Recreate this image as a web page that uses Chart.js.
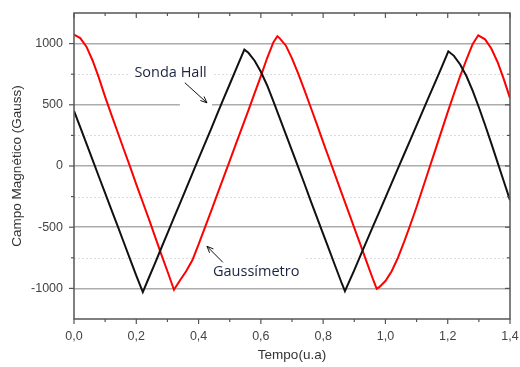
<!DOCTYPE html>
<html>
<head>
<meta charset="utf-8">
<script src="https://cdn.jsdelivr.net/npm/chart.js@4.4.0/dist/chart.umd.min.js"></script>
<style>
  html, body { margin: 0; padding: 0; background: #fff; }
  #wrap { width: 520px; height: 367px; }
</style>
</head>
<body>
<div id="wrap"><canvas id="chart-line"></canvas></div>
<script>
// data
var hallTime = [0, 0.02, 0.04, 0.06, 0.08, 0.10, 0.12, 0.14, 0.16, 0.18, 0.20, 0.221,
    0.24, 0.26, 0.28, 0.30, 0.32, 0.34, 0.36, 0.38, 0.40, 0.42, 0.44, 0.46, 0.48, 0.50, 0.52, 0.547,
    0.56, 0.58, 0.60, 0.62, 0.64, 0.66, 0.68, 0.70, 0.72, 0.74, 0.76, 0.78, 0.80, 0.82, 0.84, 0.86, 0.87,
    0.88, 0.90, 0.92, 0.94, 0.96, 0.98, 1.00, 1.02, 1.04, 1.06, 1.08, 1.10, 1.12, 1.14, 1.16, 1.18, 1.202,
    1.22, 1.24, 1.26, 1.28, 1.30, 1.32, 1.34, 1.36, 1.38, 1.40];
var hallField = [450, 318, 183, 48, -88, -222, -356, -490, -625, -760, -895, -1030,
    -915, -795, -672, -550, -428, -307, -185, -62, 60, 180, 302, 425, 548, 668, 790, 951,
    925, 860, 770, 660, 530, 395, 260, 125, -10, -145, -285, -420, -555, -690, -825, -960, -1022,
    -965, -850, -730, -612, -494, -376, -258, -140, -22, 96, 214, 332, 450, 568, 686, 804, 937,
    900, 830, 735, 615, 480, 335, 185, 30, -125, -279];

var gaussTime = [0, 0.02, 0.04, 0.06, 0.08, 0.10, 0.12, 0.14, 0.16, 0.18, 0.20, 0.22, 0.24, 0.26, 0.28, 0.30, 0.321,
    0.34, 0.36, 0.38, 0.40, 0.42, 0.44, 0.46, 0.48, 0.50, 0.52, 0.54, 0.56, 0.58, 0.60, 0.62, 0.64, 0.653,
    0.66, 0.68, 0.70, 0.72, 0.74, 0.76, 0.78, 0.80, 0.82, 0.84, 0.86, 0.88, 0.90, 0.92, 0.94, 0.96, 0.972,
    0.98, 1.00, 1.02, 1.04, 1.06, 1.08, 1.10, 1.12, 1.14, 1.16, 1.18, 1.20, 1.22, 1.24, 1.26, 1.28, 1.298,
    1.32, 1.34, 1.36, 1.38, 1.40];
var gaussField = [1074, 1045, 975, 860, 720, 565, 420, 278, 135, -5, -150, -290, -430, -575, -720, -860, -1011,
    -935, -860, -770, -640, -505, -370, -232, -95, 42, 180, 318, 455, 595, 735, 880, 1010, 1060,
    1045, 985, 880, 755, 620, 480, 340, 195, 55, -85, -225, -365, -505, -645, -785, -925, -1003,
    -990, -940, -860, -750, -620, -480, -335, -180, -25, 130, 285, 440, 590, 735, 870, 995, 1068,
    1035, 960, 850, 710, 555];

var xTicks = [0, 0.2, 0.4, 0.6, 0.8, 1.0, 1.2, 1.4];
var xMinor = [0.1, 0.3, 0.5, 0.7, 0.9, 1.1, 1.3];
var yTicks = [-1000, -500, 0, 500, 1000];
var yMinor = [-750, -250, 250, 750];

function toPoints(xs, ys) {
    return xs.map(function (x, i) { return { x: x, y: ys[i] }; });
}

// extra drawing: dotted minor grid, frame, mirrored ticks, labels with arrows
var framePlugin = {
    id: 'frame',
    beforeDatasetsDraw: function (chart) {
        var c = chart.ctx, a = chart.chartArea;
        var xs = chart.scales.x, ys = chart.scales.y;
        c.save();
        c.strokeStyle = '#dcdcdc';
        c.lineWidth = 1;
        c.setLineDash([2, 2]);
        yMinor.forEach(function (v) {
            var y = Math.round(ys.getPixelForValue(v)) + 0.5;
            c.beginPath(); c.moveTo(a.left, y); c.lineTo(a.right, y); c.stroke();
        });
        c.setLineDash([]);
        // white boxes behind the labels and arrows
        c.fillStyle = '#fff';
        function box(x1, y1, x2, y2) {
            var px = xs.getPixelForValue(x1), py = ys.getPixelForValue(y1);
            c.fillRect(px, py, xs.getPixelForValue(x2) - px, ys.getPixelForValue(y2) - py);
        }
        box(0.18, 852, 0.443, 640);
        box(0.34, 640, 0.443, 467);
        box(0.414, -689, 0.742, -967);
        c.restore();
    },
    afterDatasetsDraw: function (chart) {
        var c = chart.ctx, a = chart.chartArea;
        var xs = chart.scales.x, ys = chart.scales.y;
        c.save();
        c.strokeStyle = '#555';
        c.lineWidth = 1.5;
        c.strokeRect(a.left, a.top, a.right - a.left, a.bottom - a.top);
        c.lineWidth = 1.2;
        function tickX(v, len) {
            var x = xs.getPixelForValue(v);
            c.beginPath(); c.moveTo(x, a.bottom); c.lineTo(x, a.bottom + len); c.stroke();
            c.beginPath(); c.moveTo(x, a.top); c.lineTo(x, a.top + len); c.stroke();
        }
        function tickY(v, len) {
            var y = ys.getPixelForValue(v);
            c.beginPath(); c.moveTo(a.left, y); c.lineTo(a.left - len, y); c.stroke();
            c.beginPath(); c.moveTo(a.right, y); c.lineTo(a.right - len, y); c.stroke();
        }
        xTicks.forEach(function (v) { tickX(v, 5); });
        xMinor.forEach(function (v) { tickX(v, 3); });
        yTicks.forEach(function (v) { tickY(v, 5); });
        yMinor.forEach(function (v) { tickY(v, 3); });

        // labels
        c.fillStyle = '#1c2340';
        c.font = '14.5px "Open Sans"';
        c.textAlign = 'center';
        c.textBaseline = 'middle';
        c.fillText('Sonda Hall', xs.getPixelForValue(0.31), ys.getPixelForValue(762));
        c.fillText('Gaussímetro', xs.getPixelForValue(0.585), ys.getPixelForValue(-869));

        function arrow(x1, y1, x2, y2) {
            var px1 = xs.getPixelForValue(x1), py1 = ys.getPixelForValue(y1);
            var px2 = xs.getPixelForValue(x2), py2 = ys.getPixelForValue(y2);
            var ang = Math.atan2(py2 - py1, px2 - px1);
            c.strokeStyle = '#111';
            c.lineWidth = 1;
            c.beginPath(); c.moveTo(px1, py1); c.lineTo(px2, py2); c.stroke();
            c.beginPath();
            c.moveTo(px2 - 7 * Math.cos(ang - 0.4), py2 - 7 * Math.sin(ang - 0.4));
            c.lineTo(px2, py2);
            c.lineTo(px2 - 7 * Math.cos(ang + 0.4), py2 - 7 * Math.sin(ang + 0.4));
            c.stroke();
        }
        arrow(0.356, 680, 0.427, 516);
        arrow(0.478, -787, 0.427, -656);
        c.restore();
    }
};

var ctx1 = document.getElementById('chart-line').getContext('2d');
var axisFont = "'Liberation Sans', Arial, sans-serif";

new Chart(ctx1, {
    type: 'scatter',
    data: {
        datasets: [{
            label: 'Sonda Hall',
            data: toPoints(hallTime, hallField),
            showLine: true,
            borderColor: '#111111',
            borderWidth: 2,
            pointRadius: 0,
            tension: 0
        }, {
            label: 'Gaussímetro',
            data: toPoints(gaussTime, gaussField),
            showLine: true,
            borderColor: '#ff0000',
            borderWidth: 2,
            pointRadius: 0,
            tension: 0
        }]
    },
    options: {
        responsive: true,
        maintainAspectRatio: false,
        animation: false,
        layout: { padding: { top: 13, right: 10, left: 0, bottom: 0 } },
        plugins: {
            legend: { display: false },
            tooltip: { enabled: false }
        },
        scales: {
            x: {
                type: 'linear',
                min: 0,
                max: 1.4,
                afterBuildTicks: function (scale) {
                    scale.ticks = xTicks.map(function (v) { return { value: v }; });
                },
                afterFit: function (scale) {
                    scale.height = 48;
                    scale.paddingLeft = 0;
                    scale.paddingRight = 0;
                },
                grid: { display: false, drawTicks: false },
                border: { display: false },
                ticks: {
                    padding: 10,
                    color: '#444',
                    font: { family: axisFont, size: 12.5 },
                    callback: function (v) { return Number(v).toFixed(1).replace('.', ','); }
                },
                title: {
                    display: true,
                    text: 'Tempo(u.a)',
                    color: '#333',
                    font: { family: axisFont, size: 13.5 },
                    padding: { top: 0, bottom: 4 }
                }
            },
            y: {
                type: 'linear',
                min: -1250,
                max: 1250,
                afterBuildTicks: function (scale) {
                    scale.ticks = yTicks.map(function (v) { return { value: v }; });
                },
                afterFit: function (scale) {
                    scale.width = 74;
                    scale.paddingTop = 0;
                    scale.paddingBottom = 0;
                },
                grid: {
                    drawTicks: false,
                    color: '#acacac',
                    lineWidth: 1.6
                },
                border: { display: false },
                ticks: {
                    padding: 11,
                    color: '#444',
                    font: { family: axisFont, size: 12.5 },
                    callback: function (v) { return String(v); }
                },
                title: {
                    display: true,
                    text: 'Campo Magnético (Gauss)',
                    color: '#333',
                    font: { family: axisFont, size: 13.5 },
                    padding: { top: 9, bottom: 0 }
                }
            }
        }
    },
    plugins: [framePlugin]
});
</script>
</body>
</html>
